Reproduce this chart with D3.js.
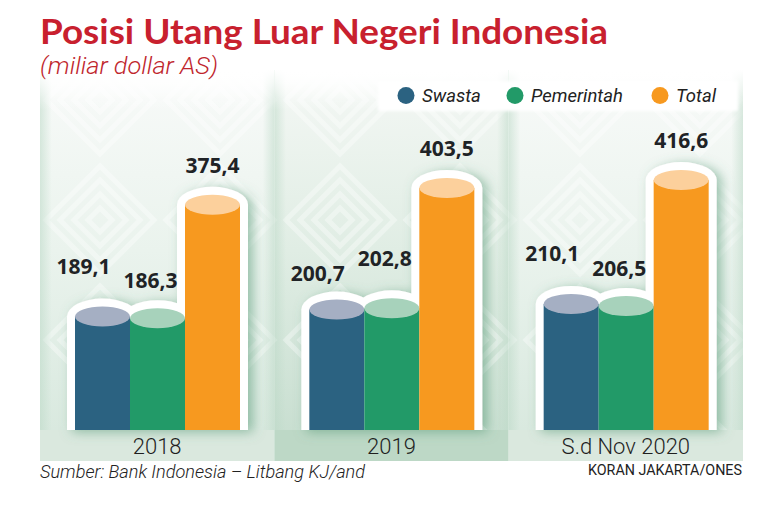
<!DOCTYPE html>
<html><head><meta charset="utf-8">
<script src="https://cdn.jsdelivr.net/npm/d3@7"></script>
<style>html,body{margin:0;padding:0;background:#fff}svg{display:block}</style>
</head><body>
<svg id="chart" width="764" height="512"></svg>
<script>
const categories = ["2018", "2019", "S.d Nov 2020"];
const seriesNames = ["Swasta", "Pemerintah", "Total"];
const swasta = [189.1, 200.7, 210.1];
const pemerintah = [186.3, 202.8, 206.5];
const total = [375.4, 403.5, 416.6];
const seriesColors = ["#2b6281", "#229a68", "#f7991f"];
const capColors = ["#a5afc3", "#a7d2bb", "#fcd09c"];
const titleText = "Posisi Utang Luar Negeri Indonesia";
const subtitleText = "(miliar dollar AS)";
const sourceText = "Sumber: Bank Indonesia \u2013 Litbang KJ/and";
const creditText = "KORAN JAKARTA/ONES";

const seriesValues = [swasta, pemerintah, total];
const svg = d3.select("#chart");
const defs = svg.append("defs");

// layout
const panelTop = 70, baseY = 430, stripBottom = 461;
const x0 = d3.scaleBand().domain(categories).range([40, 743]).padding(0);
const x1 = d3.scaleBand().domain(seriesNames).range([35, 200]).padding(0);
const y = d3.scaleLinear().domain([0, 420]).range([baseY, baseY - 252]);
const capRy = 10;

// gradients
function vGrad(id, stops) {
  const g = defs.append("linearGradient").attr("id", id).attr("x1", 0).attr("y1", 0).attr("x2", 0).attr("y2", 1);
  stops.forEach(s => g.append("stop").attr("offset", s[0]).attr("stop-color", s[1]).attr("stop-opacity", s[2] === undefined ? 1 : s[2]));
}
vGrad("gLight", [[0, "#ffffff"], [0.08, "#f6f9f7"], [0.5, "#eaf3ed"], [1, "#d9e9df"]]);
vGrad("gDark", [[0, "#ffffff"], [0.08, "#f1f6f2"], [0.5, "#e0ede4"], [1, "#c9dfd1"]]);
const hg = defs.append("linearGradient").attr("id", "gEdge").attr("x1", 0).attr("x2", 1).attr("y1", 0).attr("y2", 0);
[[0, "#bcd9c7", 0.55], [0.05, "#bcd9c7", 0], [0.95, "#bcd9c7", 0], [1, "#bcd9c7", 0.55]].forEach(s =>
  hg.append("stop").attr("offset", s[0]).attr("stop-color", s[1]).attr("stop-opacity", s[2]));
const topFade = defs.append("linearGradient").attr("id", "gTop").attr("x1", 0).attr("x2", 0).attr("y1", 0).attr("y2", 1);
[[0, "#fff", 1], [1, "#fff", 0]].forEach(s => topFade.append("stop").attr("offset", s[0]).attr("stop-color", s[1]).attr("stop-opacity", s[2]));

// diamond pattern
const pat = defs.append("pattern").attr("id", "pDiamond").attr("patternUnits", "userSpaceOnUse")
  .attr("width", 120).attr("height", 120).attr("x", 40).attr("y", 40);
[54, 40, 26, 12].forEach(r => {
  pat.append("path").attr("d", `M60,${60 - r} L${60 + r},60 L60,${60 + r} L${60 - r},60 Z`)
    .attr("fill", "none").attr("stroke", "#ffffff").attr("stroke-width", 5).attr("stroke-opacity", 0.5);
});

// filters
const shadow = defs.append("filter").attr("id", "fShadow").attr("x", "-40%").attr("y", "-20%").attr("width", "180%").attr("height", "140%");
shadow.append("feDropShadow").attr("dx", 5).attr("dy", 2).attr("stdDeviation", 6).attr("flood-color", "#4f9570").attr("flood-opacity", 0.55);
const soft = defs.append("filter").attr("id", "fSoft").attr("x", "-10%").attr("y", "-40%").attr("width", "120%").attr("height", "180%");
soft.append("feGaussianBlur").attr("stdDeviation", 1.5);

// panels
const panels = svg.append("g");
categories.forEach((c, i) => {
  const px = x0(c), pw = x0.bandwidth();
  const dark = i === 1;
  panels.append("rect").attr("x", px).attr("y", panelTop).attr("width", pw).attr("height", baseY - panelTop)
    .attr("fill", dark ? "url(#gDark)" : "url(#gLight)");
  panels.append("rect").attr("x", px).attr("y", panelTop).attr("width", pw).attr("height", baseY - panelTop)
    .attr("fill", "url(#pDiamond)").attr("opacity", 0.7);
  panels.append("rect").attr("x", px).attr("y", panelTop).attr("width", pw).attr("height", baseY - panelTop)
    .attr("fill", "url(#gEdge)");
  panels.append("rect").attr("x", px).attr("y", panelTop).attr("width", pw).attr("height", 40)
    .attr("fill", "url(#gTop)");
  panels.append("rect").attr("x", px).attr("y", baseY).attr("width", pw).attr("height", stripBottom - baseY)
    .attr("fill", dark ? "#bdd8c6" : "#dae8de");
});

// legend
const legend = svg.append("g");
legend.append("rect").attr("x", 378).attr("y", 81).attr("width", 360).attr("height", 30)
  .attr("fill", "#ffffff").attr("filter", "url(#fSoft)");
const legendX = [406, 515, 660];
seriesNames.forEach((s, i) => {
  legend.append("circle").attr("cx", legendX[i]).attr("cy", 95.5).attr("r", 8.5).attr("fill", seriesColors[i]);
  legend.append("text").attr("x", legendX[i] + 16).attr("y", 102)
    .attr("font-family", "Roboto, sans-serif").attr("font-style", "italic").attr("font-size", 18.5)
    .attr("fill", "#222").text(s);
});

// bars
const groups = svg.append("g").selectAll("g").data(categories).join("g")
  .attr("transform", c => `translate(${x0(c)},0)`);

const barData = (c, ci) => seriesNames.map((s, si) => ({ s, si, ci, v: seriesValues[si][ci] }));

groups.each(function (c, ci) {
  const g = d3.select(this);
  const outline = g.append("g").attr("filter", "url(#fShadow)");
  barData(c, ci).forEach(d => {
    const bx = x1(d.s), bw = x1.bandwidth();
    const cy = y(d.v);
    const pad = 8;
    const rx = bw / 2 + pad, ry = capRy + pad;
    const path = `M${bx - pad},${baseY} L${bx - pad},${cy} A${rx},${ry} 0 0 1 ${bx + bw + pad},${cy} L${bx + bw + pad},${baseY} Z`;
    outline.append("path").attr("d", path).attr("fill", "#ffffff");
  });
  barData(c, ci).forEach(d => {
    const bx = x1(d.s), bw = x1.bandwidth();
    const cy = y(d.v);
    g.append("rect").attr("x", bx).attr("y", cy).attr("width", bw).attr("height", baseY - cy)
      .attr("fill", seriesColors[d.si]);
    g.append("ellipse").attr("cx", bx + bw / 2).attr("cy", cy).attr("rx", bw / 2).attr("ry", capRy)
      .attr("fill", capColors[d.si]);
  });
  const a = swasta[ci], b = pemerintah[ci];
  barData(c, ci).forEach(d => {
    const bx = x1(d.s), bw = x1.bandwidth();
    const top = y(d.v) - capRy;
    let dy = 22, dx = 0;
    if (d.si === 0) { dx = -19; dy = a >= b ? 33 : 19; }
    if (d.si === 1) { dx = -7; dy = b > a ? 32 : 20; }
    g.append("text").attr("x", bx + bw / 2 + dx).attr("y", top - dy)
      .attr("text-anchor", "middle").attr("font-family", "'Open Sans', sans-serif").attr("font-weight", 700)
      .attr("font-size", 21).attr("fill", "#1f2326")
      .text(d3.format(".1f")(d.v).replace(".", ","));
  });
  g.append("text").attr("x", x0.bandwidth() / 2).attr("y", 454).attr("text-anchor", "middle")
    .attr("font-family", "Roboto, sans-serif").attr("font-weight", 300).attr("font-size", 22).attr("fill", "#1f1f1f").text(c);
});

// titles
function fitText(sel, w) {
  const n = sel.node();
  const len = n.getComputedTextLength();
  if (Math.abs(len - w) > 2) sel.attr("textLength", w).attr("lengthAdjust", "spacingAndGlyphs");
}
const t = svg.append("text").attr("x", 40).attr("y", 44).attr("font-family", "Lato, sans-serif")
  .attr("font-weight", 700).attr("font-size", 35).attr("fill", "#c8202e").text(titleText);
fitText(t, 568);
const st = svg.append("text").attr("x", 40).attr("y", 74).attr("font-family", "Roboto, sans-serif")
  .attr("font-style", "italic").attr("font-weight", 300).attr("font-size", 23).attr("fill", "#c0262d").text(subtitleText);
fitText(st, 178);

// footer
const src = svg.append("text").attr("x", 40).attr("y", 478).attr("font-family", "Roboto, sans-serif")
  .attr("font-style", "italic").attr("font-weight", 300).attr("font-size", 19).attr("fill", "#222").text(sourceText);
fitText(src, 325);
const cr = svg.append("text").attr("x", 742).attr("y", 475).attr("text-anchor", "end").attr("font-family", "Roboto, sans-serif")
  .attr("font-size", 15).attr("fill", "#222").text(creditText);
cr.attr("textLength", 154).attr("lengthAdjust", "spacingAndGlyphs");
</script>
</body></html>
